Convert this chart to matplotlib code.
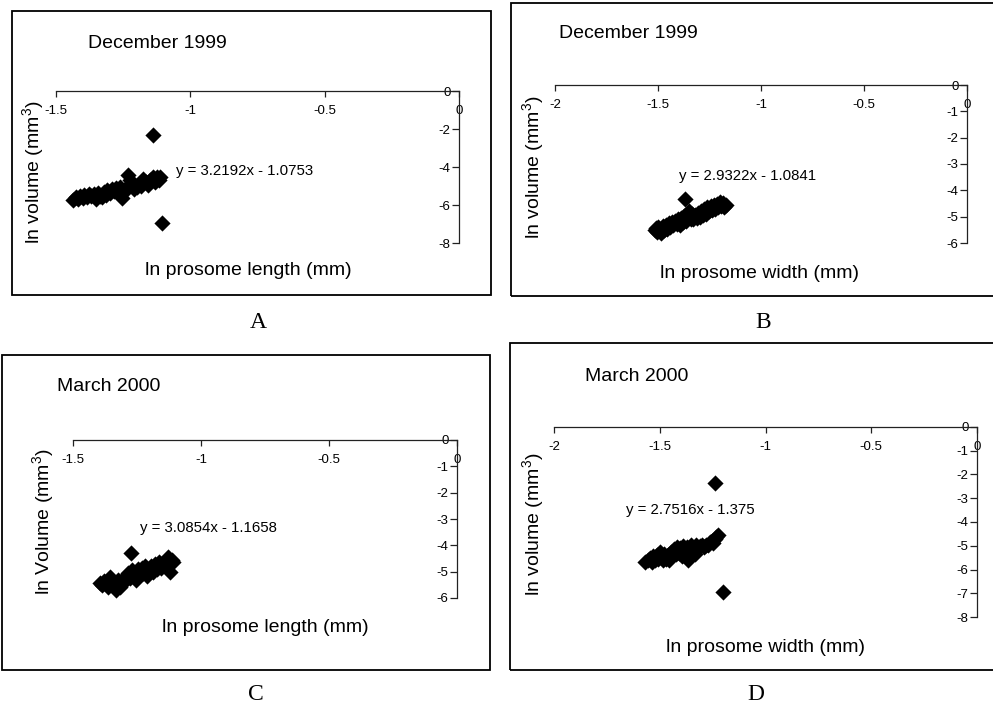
import matplotlib
matplotlib.use("Agg")
import matplotlib.pyplot as plt
from matplotlib.patches import Rectangle
from matplotlib.ticker import FormatStrFormatter

plt.rcParams['font.family'] = ['Liberation Sans', 'DejaVu Sans']
plt.rcParams['axes.unicode_minus'] = False
plt.rcParams['mathtext.fontset'] = 'custom'
plt.rcParams['mathtext.rm'] = 'Liberation Sans'
plt.rcParams['mathtext.it'] = 'Liberation Sans:italic'

# ---------------- data ----------------
# A: December 1999, ln prosome length vs ln volume
xA = [-1.436, -1.425, -1.418, -1.41, -1.40, -1.395, -1.385, -1.378, -1.37, -1.36,
      -1.352, -1.345, -1.338, -1.33, -1.322, -1.315, -1.31, -1.30, -1.292, -1.285,
      -1.278, -1.27, -1.262, -1.255, -1.248, -1.24, -1.231, -1.225, -1.218, -1.21,
      -1.20, -1.19, -1.182, -1.175, -1.165, -1.158, -1.15, -1.14, -1.132, -1.125,
      -1.118, -1.113, -1.138, -1.107]
yA = [-5.74, -5.60, -5.70, -5.52, -5.62, -5.45, -5.58, -5.40, -5.55, -5.42,
      -5.66, -5.35, -5.52, -5.60, -5.30, -5.45, -5.20, -5.35, -5.15, -5.28,
      -5.10, -5.22, -5.05, -5.65, -5.30, -5.12, -4.42, -4.70, -4.95, -5.18,
      -5.05, -4.88, -4.98, -4.62, -4.80, -4.95, -4.70, -4.50, -4.78, -4.55,
      -4.68, -4.52, -2.32, -6.96]
eqA = "y = 3.2192x - 1.0753"

# B: December 1999, ln prosome width vs ln volume
xB = [-1.515, -1.510, -1.505, -1.498, -1.492, -1.485, -1.478, -1.470, -1.462, -1.455,
      -1.448, -1.440, -1.432, -1.425, -1.418, -1.410, -1.402, -1.395, -1.388, -1.380,
      -1.372, -1.365, -1.358, -1.350, -1.342, -1.335, -1.328, -1.320, -1.312, -1.305,
      -1.298, -1.290, -1.282, -1.275, -1.268, -1.260, -1.252, -1.245, -1.238, -1.230,
      -1.222, -1.215, -1.208, -1.200, -1.192, -1.185, -1.178, -1.170, -1.367]
yB = [-5.50, -5.42, -5.58, -5.40, -5.55, -5.62, -5.35, -5.50, -5.30, -5.45,
      -5.25, -5.38, -5.20, -5.32, -5.15, -5.28, -5.10, -5.30, -5.05, -5.20,
      -4.98, -5.15, -4.90, -4.80, -5.08, -4.88, -5.10, -4.92, -5.05, -4.85,
      -5.00, -4.78, -4.95, -4.70, -4.88, -4.65, -4.80, -4.60, -4.75, -4.55,
      -4.70, -4.50, -4.62, -4.45, -4.58, -4.48, -4.62, -4.55, -4.32]
eqB = "y = 2.9322x - 1.0841"

# C: March 2000, ln prosome length vs ln volume
xC = [-1.395, -1.385, -1.378, -1.370, -1.362, -1.355, -1.348, -1.340, -1.332, -1.325,
      -1.318, -1.310, -1.300, -1.292, -1.285, -1.278, -1.270, -1.262, -1.255, -1.248,
      -1.240, -1.232, -1.225, -1.218, -1.210, -1.202, -1.195, -1.188, -1.180, -1.172,
      -1.165, -1.158, -1.150, -1.142, -1.135, -1.128, -1.121, -1.115, -1.108, -1.273]
yC = [-5.44, -5.52, -5.35, -5.48, -5.60, -5.20, -5.40, -5.55, -5.68, -5.30,
      -5.60, -5.45, -5.30, -5.18, -5.05, -5.25, -4.95, -5.15, -5.30, -4.90,
      -5.10, -4.85, -5.05, -4.80, -5.15, -4.95, -4.78, -5.00, -4.70, -4.88,
      -4.65, -4.85, -4.72, -4.58, -4.75, -4.45, -5.00, -4.55, -4.65, -4.30]
eqC = "y = 3.0854x - 1.1658"

# D: March 2000, ln prosome width vs ln volume
xD = [-1.570, -1.555, -1.545, -1.538, -1.530, -1.522, -1.515, -1.508, -1.500, -1.492,
      -1.485, -1.478, -1.470, -1.462, -1.455, -1.448, -1.440, -1.432, -1.425, -1.418,
      -1.410, -1.402, -1.395, -1.388, -1.380, -1.372, -1.365, -1.358, -1.350, -1.342,
      -1.335, -1.328, -1.320, -1.310, -1.300, -1.290, -1.280, -1.270, -1.262, -1.255,
      -1.248, -1.240, -1.232, -1.223, -1.239, -1.202]
yD = [-5.70, -5.60, -5.52, -5.68, -5.45, -5.58, -5.40, -5.55, -5.25, -5.45,
      -5.62, -5.35, -5.55, -5.40, -5.60, -5.28, -5.45, -5.15, -5.35, -5.05,
      -5.30, -5.10, -5.45, -5.00, -5.25, -5.05, -5.60, -5.30, -4.98, -5.20,
      -5.35, -4.95, -5.10, -5.00, -4.95, -5.05, -4.98, -4.97, -4.85, -4.78,
      -4.88, -4.70, -4.65, -4.55, -2.34, -6.93]
eqD = "y = 2.7516x - 1.375"

titles = ["December 1999", "December 1999", "March 2000", "March 2000"]
xlabels = ["ln prosome length (mm)", "ln prosome width (mm)",
           "ln prosome length (mm)", "ln prosome width (mm)"]
ylabels = ["ln volume (mm$^3$)", "ln volume (mm$^3$)",
           "ln Volume (mm$^3$)", "ln volume (mm$^3$)"]
letters = ["A", "B", "C", "D"]
xticksA = [-1.5, -1, -0.5, 0]
xticksB = [-2, -1.5, -1, -0.5, 0]
yticksA = [0, -2, -4, -6, -8]
yticksB = [0, -1, -2, -3, -4, -5, -6]
yticksD = [0, -1, -2, -3, -4, -5, -6, -7, -8]

# ---------------- layout (pixels) ----------------
W, H = 993, 709
fig = plt.figure(figsize=(W / 100, H / 100), dpi=100)

def fx(px):
    return px / W

def fy(py):
    return 1 - py / H

panels = [
    dict(x=xA, y=yA, eq=eqA, ax=(56, 459, 91, 243), xlim=(-1.5, 0), ylim=(-8, 0),
         xt=xticksA, yt=yticksA, frame=(12, 491, 11, 295),
         title=(88, 43), eqpos=(176, 171), xl=(248, 270), yl=(33, 172), let=(258, 322)),
    dict(x=xB, y=yB, eq=eqB, ax=(555, 967, 85, 243), xlim=(-2, 0), ylim=(-6, 0),
         xt=xticksB, yt=yticksB, frame=(511, 1000, 3, 296),
         title=(559, 33), eqpos=(679, 176), xl=(760, 273), yl=(533, 167), let=(763, 322)),
    dict(x=xC, y=yC, eq=eqC, ax=(73, 457, 440, 598), xlim=(-1.5, 0), ylim=(-6, 0),
         xt=xticksA, yt=yticksB, frame=(2, 490, 355, 670),
         title=(57, 386), eqpos=(140, 528), xl=(265, 628), yl=(43, 522), let=(256, 695)),
    dict(x=xD, y=yD, eq=eqD, ax=(554, 977, 427, 617), xlim=(-2, 0), ylim=(-8, 0),
         xt=xticksB, yt=yticksD, frame=(510, 1000, 343, 670),
         title=(585, 377), eqpos=(626, 510), xl=(766, 647), yl=(533, 524), let=(756, 695)),
]

for i, p in enumerate(panels):
    l, r, t, b = p["frame"]
    fig.patches.append(Rectangle((fx(l), fy(b)), fx(r) - fx(l), fy(t) - fy(b),
                                 transform=fig.transFigure, fill=False,
                                 edgecolor="black", linewidth=1.3, zorder=0))
    al, ar, at, ab = p["ax"]
    ax = fig.add_axes([fx(al), fy(ab), fx(ar) - fx(al), fy(at) - fy(ab)])
    ax.patch.set_alpha(0)
    ax.scatter(p["x"], p["y"], marker="D", s=68, color="black", linewidths=0,
               clip_on=False, zorder=3)
    ax.set_xlim(*p["xlim"])
    ax.set_ylim(*p["ylim"])
    ax.set_xticks(p["xt"])
    ax.set_yticks(p["yt"])
    ax.xaxis.set_major_formatter(FormatStrFormatter("%g"))
    ax.yaxis.set_major_formatter(FormatStrFormatter("%g"))
    ax.spines["top"].set_visible(False)
    ax.spines["right"].set_visible(False)
    ax.spines["bottom"].set_position(("data", 0))
    ax.spines["left"].set_position(("data", 0))
    for s in ("bottom", "left"):
        ax.spines[s].set_linewidth(0.9)
        ax.spines[s].set_color("#222222")
    ax.tick_params(axis="x", direction="out", length=4, width=0.9, pad=6,
                   labelsize=9.5, color="#222222")
    ax.tick_params(axis="y", direction="out", length=5, width=0.9, pad=1,
                   labelsize=9.5, color="#222222")
    fig.text(fx(p["title"][0]), fy(p["title"][1]), titles[i], fontsize=14,
             ha="left", va="center")
    fig.text(fx(p["eqpos"][0]), fy(p["eqpos"][1]), p["eq"], fontsize=10.8,
             ha="left", va="center")
    fig.text(fx(p["xl"][0]), fy(p["xl"][1]), xlabels[i], fontsize=14,
             ha="center", va="center")
    fig.text(fx(p["yl"][0]), fy(p["yl"][1]), ylabels[i], fontsize=14,
             ha="center", va="center", rotation=90)
    fig.text(fx(p["let"][0]), fy(p["let"][1]), letters[i], fontsize=17,
             family="Liberation Serif", ha="center", va="center")

fig.savefig("out.png", dpi=100)
